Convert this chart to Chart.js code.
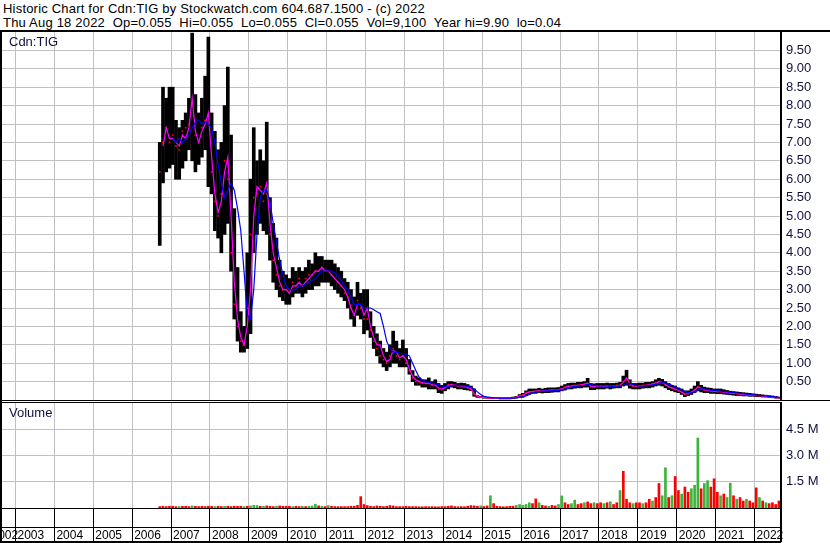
<!DOCTYPE html>
<html>
<head>
<meta charset="utf-8">
<script src="https://cdn.jsdelivr.net/npm/chart.js@4.4.0/dist/chart.umd.min.js"></script>
<style>
  body { margin: 0; background: #fff; width: 830px; height: 543px; overflow: hidden; position: relative;
         font-family: "Liberation Sans", Arial, sans-serif; }
  .hdr { position: absolute; left: 3px; font-size: 13px; line-height: 14px; letter-spacing: 0.2px;
         white-space: pre; color: #000; }
  .lbl { position: absolute; left: 9px; font-size: 13px; color: #101040; }
  canvas { position: absolute; left: 0; }
</style>
</head>
<body>
<div class="hdr" style="top:2px">Historic Chart for Cdn:TIG by Stockwatch.com 604.687.1500 - (c) 2022</div>
<div class="hdr" style="top:16px">Thu Aug 18 2022  Op=0.055  Hi=0.055  Lo=0.055  Cl=0.055  Vol=9,100  Year hi=9.90  lo=0.04</div>
<canvas id="price" width="830" height="373" style="top:29px"></canvas>
<canvas id="volume" width="830" height="141" style="top:402px"></canvas>
<div class="lbl" style="top:34px">Cdn:TIG</div>
<div class="lbl" style="top:405px">Volume</div>
<script>
// monthly bars, first month = Sep 2006
const firstMonth = 2006 + 8 / 12;
const years = [2002, 2003, 2004, 2005, 2006, 2007, 2008, 2009, 2010, 2011, 2012,
               2013, 2014, 2015, 2016, 2017, 2018, 2019, 2020, 2021, 2022];

const priceLow = [
  4.2, 5.9, 6.2, 6.3,
  6.4, 6.0, 6.0, 6.3, 6.5, 6.8, 6.5, 6.2, 6.4, 6.6, 6.8, 5.8,
  5.6, 4.6, 4.4, 4.0, 4.5, 4.8, 3.5, 2.2, 1.6, 1.3, 1.3, 1.4,
  1.8, 4.0, 4.5, 4.8, 4.6, 4.5, 3.8, 3.2, 3.0, 2.8, 2.7, 2.6,
  2.6, 2.8, 2.9, 2.9, 2.8, 2.9, 3.0, 3.0, 3.1, 3.1, 3.2, 3.2,
  3.2, 3.1, 3.0, 2.9, 2.8, 2.7, 2.5, 2.2, 2.0, 2.3, 2.2, 1.8,
  1.9, 1.7, 1.4, 1.2, 1.0, 0.9, 0.8, 0.9, 1.0, 1.0, 0.9, 0.9,
  0.9, 0.7, 0.5, 0.4, 0.4, 0.35, 0.35, 0.3, 0.3, 0.3, 0.2, 0.18,
  0.25, 0.3, 0.35, 0.33, 0.3, 0.3, 0.28, 0.27, 0.25, 0.1, 0.07, 0.06,
  0.05, 0.05, 0.04, 0.04, 0.04, 0.03, 0.03, 0.03, 0.03, 0.04, 0.05, 0.07,
  0.08, 0.12, 0.15, 0.18, 0.18, 0.2, 0.19, 0.2, 0.2, 0.21, 0.22, 0.22,
  0.25, 0.27, 0.3, 0.3, 0.32, 0.33, 0.33, 0.35, 0.35, 0.28, 0.28, 0.3,
  0.3, 0.3, 0.32, 0.3, 0.32, 0.33, 0.33, 0.38, 0.4, 0.32, 0.3, 0.3,
  0.3, 0.32, 0.33, 0.33, 0.35, 0.38, 0.4, 0.38, 0.33, 0.28, 0.25, 0.22,
  0.2, 0.15, 0.09, 0.12, 0.15, 0.2, 0.25, 0.22, 0.2, 0.2, 0.18, 0.18,
  0.17, 0.17, 0.16, 0.15, 0.14, 0.13, 0.12, 0.12, 0.11, 0.11, 0.1, 0.1,
  0.09, 0.09, 0.08, 0.08, 0.07, 0.06, 0.05, 0.05
];
const priceHigh = [
  7.0, 8.5, 8.2, 8.5,
  8.5, 7.6, 7.4, 7.6, 7.8, 8.2, 9.97, 8.3, 7.8, 8.2, 8.8, 9.86,
  7.8, 7.3, 6.8, 7.0, 8.0, 9.05, 7.2, 5.2, 3.6, 2.4, 2.0, 4.0,
  6.0, 7.4, 6.5, 6.8, 6.5, 7.55, 5.5, 4.8, 4.4, 3.8, 3.5, 3.4,
  3.3, 3.6, 3.5, 3.6, 3.5, 3.6, 3.8, 3.7, 4.0, 3.9, 3.9, 3.8,
  3.8, 3.8, 3.7, 3.6, 3.5, 3.3, 3.2, 3.0, 2.8, 3.2, 2.9, 3.0,
  3.0, 2.4, 2.0, 1.8, 1.6, 1.4, 1.3, 1.5, 1.87, 1.6, 1.4, 1.63,
  1.4, 1.1, 0.8, 0.65, 0.6, 0.55, 0.55, 0.6, 0.5, 0.55, 0.45, 0.4,
  0.45, 0.5, 0.5, 0.48, 0.45, 0.46, 0.45, 0.42, 0.38, 0.3, 0.12, 0.1,
  0.09, 0.08, 0.07, 0.07, 0.06, 0.06, 0.06, 0.06, 0.06, 0.08, 0.1, 0.15,
  0.18, 0.25, 0.3, 0.3, 0.3, 0.32, 0.3, 0.32, 0.33, 0.33, 0.33, 0.34,
  0.38, 0.42, 0.45, 0.46, 0.46, 0.48, 0.48, 0.5, 0.59, 0.45, 0.44, 0.45,
  0.45, 0.45, 0.46, 0.45, 0.45, 0.46, 0.48, 0.65, 0.81, 0.55, 0.45, 0.45,
  0.46, 0.46, 0.48, 0.48, 0.5, 0.55, 0.59, 0.56, 0.5, 0.45, 0.4, 0.38,
  0.33, 0.3, 0.25, 0.25, 0.3, 0.38, 0.5, 0.4, 0.35, 0.33, 0.32, 0.3,
  0.3, 0.3, 0.28, 0.26, 0.24, 0.23, 0.22, 0.21, 0.2, 0.19, 0.18, 0.17,
  0.16, 0.15, 0.14, 0.13, 0.12, 0.11, 0.1, 0.08
];
const priceClose = [
  6.2, 7.0, 7.4, 7.0,
  7.2, 6.9, 6.8, 7.3, 7.4, 7.5, 8.0, 7.2, 7.0, 7.4, 7.6, 7.5,
  6.2, 5.4, 5.0, 5.6, 6.5, 6.0, 4.0, 2.6, 2.0, 1.6, 1.5, 2.5,
  4.5, 5.5, 5.6, 5.8, 5.4, 5.6, 4.5, 3.8, 3.4, 3.1, 3.0, 3.0,
  3.0, 3.2, 3.1, 3.3, 3.1, 3.3, 3.4, 3.4, 3.5, 3.5, 3.6, 3.5,
  3.5, 3.4, 3.3, 3.2, 3.1, 2.9, 2.8, 2.5, 2.3, 2.7, 2.5, 2.2,
  2.2, 1.9, 1.6, 1.4, 1.2, 1.1, 1.0, 1.2, 1.4, 1.2, 1.1, 1.2,
  1.0, 0.8, 0.6, 0.5, 0.5, 0.45, 0.45, 0.45, 0.4, 0.4, 0.3, 0.28,
  0.35, 0.42, 0.42, 0.4, 0.38, 0.38, 0.35, 0.33, 0.3, 0.15, 0.09, 0.08,
  0.07, 0.06, 0.05, 0.05, 0.05, 0.045, 0.045, 0.045, 0.045, 0.06, 0.08, 0.12,
  0.14, 0.2, 0.22, 0.23, 0.24, 0.25, 0.24, 0.26, 0.26, 0.27, 0.27, 0.28,
  0.3, 0.35, 0.38, 0.38, 0.4, 0.4, 0.41, 0.43, 0.45, 0.35, 0.36, 0.38,
  0.38, 0.37, 0.38, 0.37, 0.38, 0.4, 0.4, 0.5, 0.55, 0.4, 0.37, 0.38,
  0.38, 0.4, 0.4, 0.42, 0.44, 0.47, 0.5, 0.46, 0.4, 0.35, 0.32, 0.28,
  0.25, 0.2, 0.15, 0.18, 0.22, 0.28, 0.36, 0.3, 0.27, 0.26, 0.25, 0.24,
  0.23, 0.23, 0.21, 0.2, 0.19, 0.18, 0.17, 0.16, 0.15, 0.14, 0.13, 0.13,
  0.12, 0.12, 0.11, 0.1, 0.09, 0.08, 0.07, 0.055
];
// magenta (short) moving average
const maShort = [
  null, 6.9, 7.4, 7.1,
  7.1, 7.0, 6.9, 7.2, 7.1, 7.4, 8.2, 7.3, 7.0, 7.3, 7.5, 7.8,
  6.6, 5.6, 5.1, 5.4, 6.2, 6.6, 5.0, 3.2, 2.2, 1.7, 1.5, 2.0,
  3.0, 5.0, 5.8, 5.7, 5.6, 5.9, 4.8, 4.0, 3.6, 3.2, 3.0, 3.0,
  2.9, 3.1, 3.1, 3.2, 3.1, 3.2, 3.3, 3.4, 3.5, 3.5, 3.6, 3.5,
  3.5, 3.4, 3.3, 3.2, 3.1, 3.0, 2.8, 2.5, 2.3, 2.6, 2.6, 2.3,
  2.5, 2.0, 1.7, 1.5, 1.5, 1.2, 1.05, 1.1, 1.35, 1.3, 1.15, 1.2,
  1.1, 0.85, 0.65, 0.55, 0.5, 0.47, 0.45, 0.45, 0.42, 0.4, 0.33, 0.3,
  0.33, 0.4, 0.42, 0.4, 0.38, 0.38, 0.37, 0.34, 0.3, 0.18, 0.1, 0.08,
  0.07, 0.06, 0.05, 0.05, 0.05, 0.045, 0.045, 0.045, 0.045, 0.055, 0.075, 0.11,
  0.12, 0.18, 0.22, 0.23, 0.24, 0.25, 0.24, 0.25, 0.26, 0.27, 0.27, 0.28,
  0.3, 0.34, 0.37, 0.38, 0.39, 0.4, 0.41, 0.43, 0.46, 0.38, 0.36, 0.37,
  0.38, 0.37, 0.38, 0.37, 0.38, 0.39, 0.4, 0.48, 0.6, 0.45, 0.38, 0.38,
  0.38, 0.39, 0.4, 0.41, 0.43, 0.46, 0.5, 0.48, 0.42, 0.36, 0.33, 0.3,
  0.26, 0.22, 0.16, 0.17, 0.21, 0.27, 0.36, 0.32, 0.28, 0.26, 0.25, 0.24,
  0.23, 0.23, 0.21, 0.2, 0.19, 0.18, 0.17, 0.16, 0.15, 0.14, 0.13, 0.13,
  0.12, 0.12, 0.11, 0.1, 0.09, 0.08, 0.07, 0.06
];
// blue (long) moving average
const maLong = [
  null, null, null, null,
  7.1, 7.0, 7.1, 7.0, 7.1, 7.2, 7.4, 7.55, 7.6, 7.5, 7.55, 7.5,
  7.4, 7.0, 6.4, 5.9, 5.5, 5.7, 5.9, 5.7, 5.2, 4.6, 3.5, 2.3,
  2.2, 3.0, 4.5, 5.5, 5.7, 5.7, 5.4, 4.8, 4.3, 3.8, 3.4, 3.1,
  3.0, 3.0, 3.0, 3.1, 3.1, 3.15, 3.2, 3.25, 3.3, 3.4, 3.5, 3.5,
  3.5, 3.5, 3.45, 3.35, 3.25, 3.1, 3.0, 2.8, 2.6, 2.6, 2.6, 2.5,
  2.5, 2.5, 2.45, 2.4, 2.35, 2.0, 1.6, 1.4, 1.3, 1.3, 1.27, 1.25,
  1.25, 1.2, 1.0, 0.8, 0.62, 0.55, 0.5, 0.48, 0.46, 0.44, 0.42, 0.38,
  0.36, 0.36, 0.38, 0.4, 0.4, 0.39, 0.38, 0.37, 0.35, 0.3, 0.22, 0.15,
  0.1, 0.08, 0.07, 0.06, 0.055, 0.05, 0.05, 0.05, 0.05, 0.05, 0.06, 0.08,
  0.08, 0.11, 0.15, 0.19, 0.22, 0.23, 0.24, 0.24, 0.25, 0.25, 0.26, 0.27,
  0.27, 0.29, 0.32, 0.35, 0.37, 0.38, 0.39, 0.4, 0.42, 0.42, 0.4, 0.38,
  0.38, 0.38, 0.38, 0.37, 0.37, 0.38, 0.38, 0.4, 0.44, 0.45, 0.42, 0.4,
  0.38, 0.38, 0.39, 0.4, 0.41, 0.43, 0.45, 0.47, 0.46, 0.43, 0.4, 0.36,
  0.32, 0.28, 0.23, 0.2, 0.19, 0.22, 0.26, 0.3, 0.3, 0.28, 0.27, 0.26,
  0.25, 0.24, 0.23, 0.22, 0.21, 0.2, 0.19, 0.18, 0.17, 0.16, 0.15, 0.14,
  0.13, 0.125, 0.12, 0.11, 0.1, 0.09, 0.08, 0.07
];
// monthly peak daily volume, millions of shares
const volume = [
  0.08, 0.1, 0.08, 0.1,
  0.1, 0.08, 0.08, 0.1, 0.1, 0.08, 0.12, 0.1, 0.08, 0.1, 0.08, 0.1,
  0.1, 0.08, 0.1, 0.08, 0.1, 0.1, 0.08, 0.1, 0.1, 0.1, 0.08, 0.1,
  0.12, 0.15, 0.14, 0.1, 0.1, 0.12, 0.1, 0.08, 0.1, 0.12, 0.1, 0.1,
  0.1, 0.08, 0.1, 0.08, 0.1, 0.08, 0.1, 0.12, 0.22, 0.12, 0.1, 0.08,
  0.14, 0.1, 0.08, 0.08, 0.08, 0.08, 0.08, 0.1, 0.1, 0.15, 0.65, 0.2,
  0.14, 0.1, 0.08, 0.12, 0.1, 0.08, 0.1, 0.14, 0.12, 0.08, 0.08, 0.08,
  0.1, 0.08, 0.08, 0.08, 0.07, 0.07, 0.08, 0.07, 0.08, 0.07, 0.07, 0.08,
  0.08, 0.1, 0.12, 0.08, 0.07, 0.08, 0.07, 0.1, 0.14, 0.12, 0.1, 0.12,
  0.08, 0.12, 0.7, 0.25, 0.1, 0.08, 0.07, 0.08, 0.1, 0.1, 0.15, 0.2,
  0.15, 0.2, 0.3, 0.25, 0.52, 0.3, 0.15, 0.12, 0.1, 0.15, 0.12, 0.2,
  0.69, 0.3, 0.2, 0.25, 0.45, 0.2, 0.25, 0.3, 0.35, 0.25, 0.3, 0.25,
  0.3, 0.25, 0.3, 0.35, 0.2, 0.3, 1.0, 2.1, 0.5, 0.3, 0.25, 0.3,
  0.3, 0.25, 0.3, 0.5, 0.4, 0.6, 1.4, 0.7, 2.3, 0.6, 0.7, 1.8,
  1.0, 0.8, 1.2, 0.9, 1.1, 1.3, 4.0, 1.1, 1.4, 1.56, 1.2, 1.67,
  0.9, 0.7, 0.8, 0.6, 1.42, 0.7, 0.5, 0.6, 0.4, 0.5, 0.4, 0.3,
  1.15, 0.6, 0.4, 0.3, 0.25, 0.3, 0.2, 0.4
];
// r = down, g = up
const volumeDir = [
  'r', 'r', 'r', 'r',
  'r', 'r', 'g', 'r', 'r', 'r', 'g', 'r', 'r', 'r', 'r', 'r',
  'r', 'g', 'r', 'r', 'g', 'r', 'r', 'r', 'r', 'r', 'g', 'r',
  'g', 'g', 'g', 'r', 'g', 'r', 'r', 'r', 'g', 'r', 'r', 'r',
  'r', 'g', 'r', 'r', 'g', 'r', 'g', 'g', 'g', 'r', 'g', 'r',
  'g', 'r', 'r', 'r', 'r', 'r', 'r', 'r', 'r', 'r', 'r', 'r',
  'r', 'r', 'r', 'r', 'r', 'r', 'r', 'r', 'r', 'r', 'r', 'r',
  'r', 'r', 'r', 'r', 'r', 'r', 'r', 'r', 'r', 'r', 'r', 'r',
  'r', 'r', 'r', 'r', 'r', 'r', 'r', 'r', 'r', 'r', 'r', 'g',
  'r', 'r', 'g', 'r', 'r', 'r', 'r', 'r', 'r', 'r', 'g', 'g',
  'g', 'g', 'g', 'r', 'r', 'g', 'r', 'r', 'g', 'r', 'r', 'g',
  'g', 'r', 'r', 'g', 'g', 'r', 'r', 'g', 'r', 'r', 'g', 'r',
  'r', 'g', 'r', 'g', 'r', 'r', 'g', 'r', 'r', 'r', 'g', 'r',
  'r', 'g', 'r', 'r', 'g', 'r', 'r', 'g', 'g', 'r', 'g', 'r',
  'r', 'g', 'r', 'r', 'g', 'g', 'g', 'r', 'g', 'g', 'r', 'r',
  'r', 'g', 'r', 'g', 'g', 'r', 'g', 'r', 'r', 'g', 'r', 'r',
  'r', 'g', 'r', 'g', 'r', 'r', 'r', 'r'
];

const X_MIN = 2002.6015;
const X_MAX = 2022.679;
const GRID = '#c0c0c0';
const AXIS_TEXT = '#101040';
const FONT = { family: '"Liberation Sans", Arial, sans-serif', size: 13 };
const YEAR_FONT = { family: '"Liberation Sans", Arial, sans-serif', size: 12 };

const monthX = priceHigh.map((_, i) => firstMonth + (i + 0.5) / 12);
const pts = arr => arr.map((v, i) => ({ x: monthX[i], y: v }));
const volColor = { r: '#ff0000', g: '#3cb43c', n: '#a0a0a0' };

// year boundaries; the partial first year is labelled at the left edge
const yearTicks = scale => {
  scale.ticks = years.map(v => ({ value: Math.max(v, X_MIN - 0.27) }));
};
const noPad = s => { s.paddingTop = 0; s.paddingBottom = 0; s.paddingLeft = 0; s.paddingRight = 0; };

// black frame lines around the panels
const frame = {
  id: 'frame',
  afterDraw(chart, args, opts) {
    const { ctx, chartArea: a, width, height } = chart;
    ctx.save();
    ctx.fillStyle = '#000';
    ctx.fillRect(0, a.top, 2, height - a.top);
    opts.lines.forEach(l => ctx.fillRect(0, l.y(a, height), l.full ? width : a.right, l.w));
    if (opts.rightToBottom) ctx.fillRect(a.right - 1, a.top, 2, height - a.top - 1);
    ctx.restore();
  }
};

new Chart(document.getElementById('price'), {
  type: 'bar',
  data: {
    datasets: [
      { type: 'line', data: pts(maLong), borderColor: '#0000ff', borderWidth: 1.2,
        pointRadius: 0, tension: 0, order: 0 },
      { type: 'line', data: pts(maShort), borderColor: '#ff00ff', borderWidth: 1.2,
        pointRadius: 0, tension: 0, order: 1 },
      { type: 'scatter', data: pts(priceClose), pointStyle: 'rect', pointRadius: 1.2,
        backgroundColor: '#ff0000', borderWidth: 0, order: 2 },
      { type: 'bar', data: priceLow.map((lo, i) => ({ x: monthX[i], y: [lo, priceHigh[i]] })),
        backgroundColor: '#000', barThickness: 3, order: 3 }
    ]
  },
  options: {
    responsive: false, animation: false, events: [],
    layout: { autoPadding: false, padding: { top: 3, bottom: 2, left: 0, right: 0 } },
    plugins: {
      legend: { display: false }, tooltip: { enabled: false },
      frame: { lines: [
        { y: a => a.top - 2, w: 2, full: true },
        { y: a => a.bottom, w: 1, full: true }
      ] }
    },
    scales: {
      x: { type: 'linear', min: X_MIN, max: X_MAX, offset: false,
           grid: { color: GRID, offset: false, drawTicks: false },
           border: { display: false }, ticks: { display: false },
           afterBuildTicks: yearTicks,
           afterFit: s => { s.height = 0; noPad(s); } },
      y: { position: 'right', min: 0, max: 10,
           ticks: { stepSize: 0.5, padding: 5, color: AXIS_TEXT, font: FONT,
                    callback: v => (v > 0 && v < 10) ? v.toFixed(2) : null },
           grid: { color: GRID, drawTicks: false },
           border: { display: true, color: '#000', width: 2 },
           afterFit: s => { s.width = 49; noPad(s); } }
    }
  },
  plugins: [frame]
});

new Chart(document.getElementById('volume'), {
  type: 'bar',
  data: {
    datasets: [
      { data: volume.map((v, i) => ({ x: monthX[i], y: v })),
        backgroundColor: volumeDir.map(d => volColor[d]), barThickness: 2 }
    ]
  },
  options: {
    responsive: false, animation: false, events: [],
    layout: { autoPadding: false, padding: { top: 1, bottom: 0, left: 0, right: 0 } },
    plugins: {
      legend: { display: false }, tooltip: { enabled: false },
      frame: { rightToBottom: true, lines: [
        { y: a => a.top - 1, w: 1, full: false },
        { y: a => a.bottom + 19, w: 1, full: false },
        { y: (a, h) => h - 2, w: 2, full: false }
      ] }
    },
    scales: {
      x: { type: 'linear', min: X_MIN, max: X_MAX, offset: false,
           grid: { color: GRID, offset: false, tickColor: '#000', tickLength: 34 },
           border: { display: true, color: '#000', width: 1 },
           ticks: { align: 'start', padding: -14, labelOffset: 2, maxRotation: 0, autoSkip: false,
                    color: '#000', font: YEAR_FONT, callback: (v, i) => String(years[i]) },
           afterBuildTicks: yearTicks,
           afterFit: s => { s.height = 35; noPad(s); } },
      y: { position: 'right', min: 0, max: 6,
           ticks: { stepSize: 1.5, padding: 5, color: AXIS_TEXT, font: FONT,
                    callback: v => (v > 0 && v < 6) ? v.toFixed(1) + ' M' : null },
           grid: { color: GRID, drawTicks: false },
           border: { display: true, color: '#000', width: 2 },
           afterFit: s => { s.width = 49; noPad(s); } }
    }
  },
  plugins: [frame]
});
</script>
</body>
</html>
